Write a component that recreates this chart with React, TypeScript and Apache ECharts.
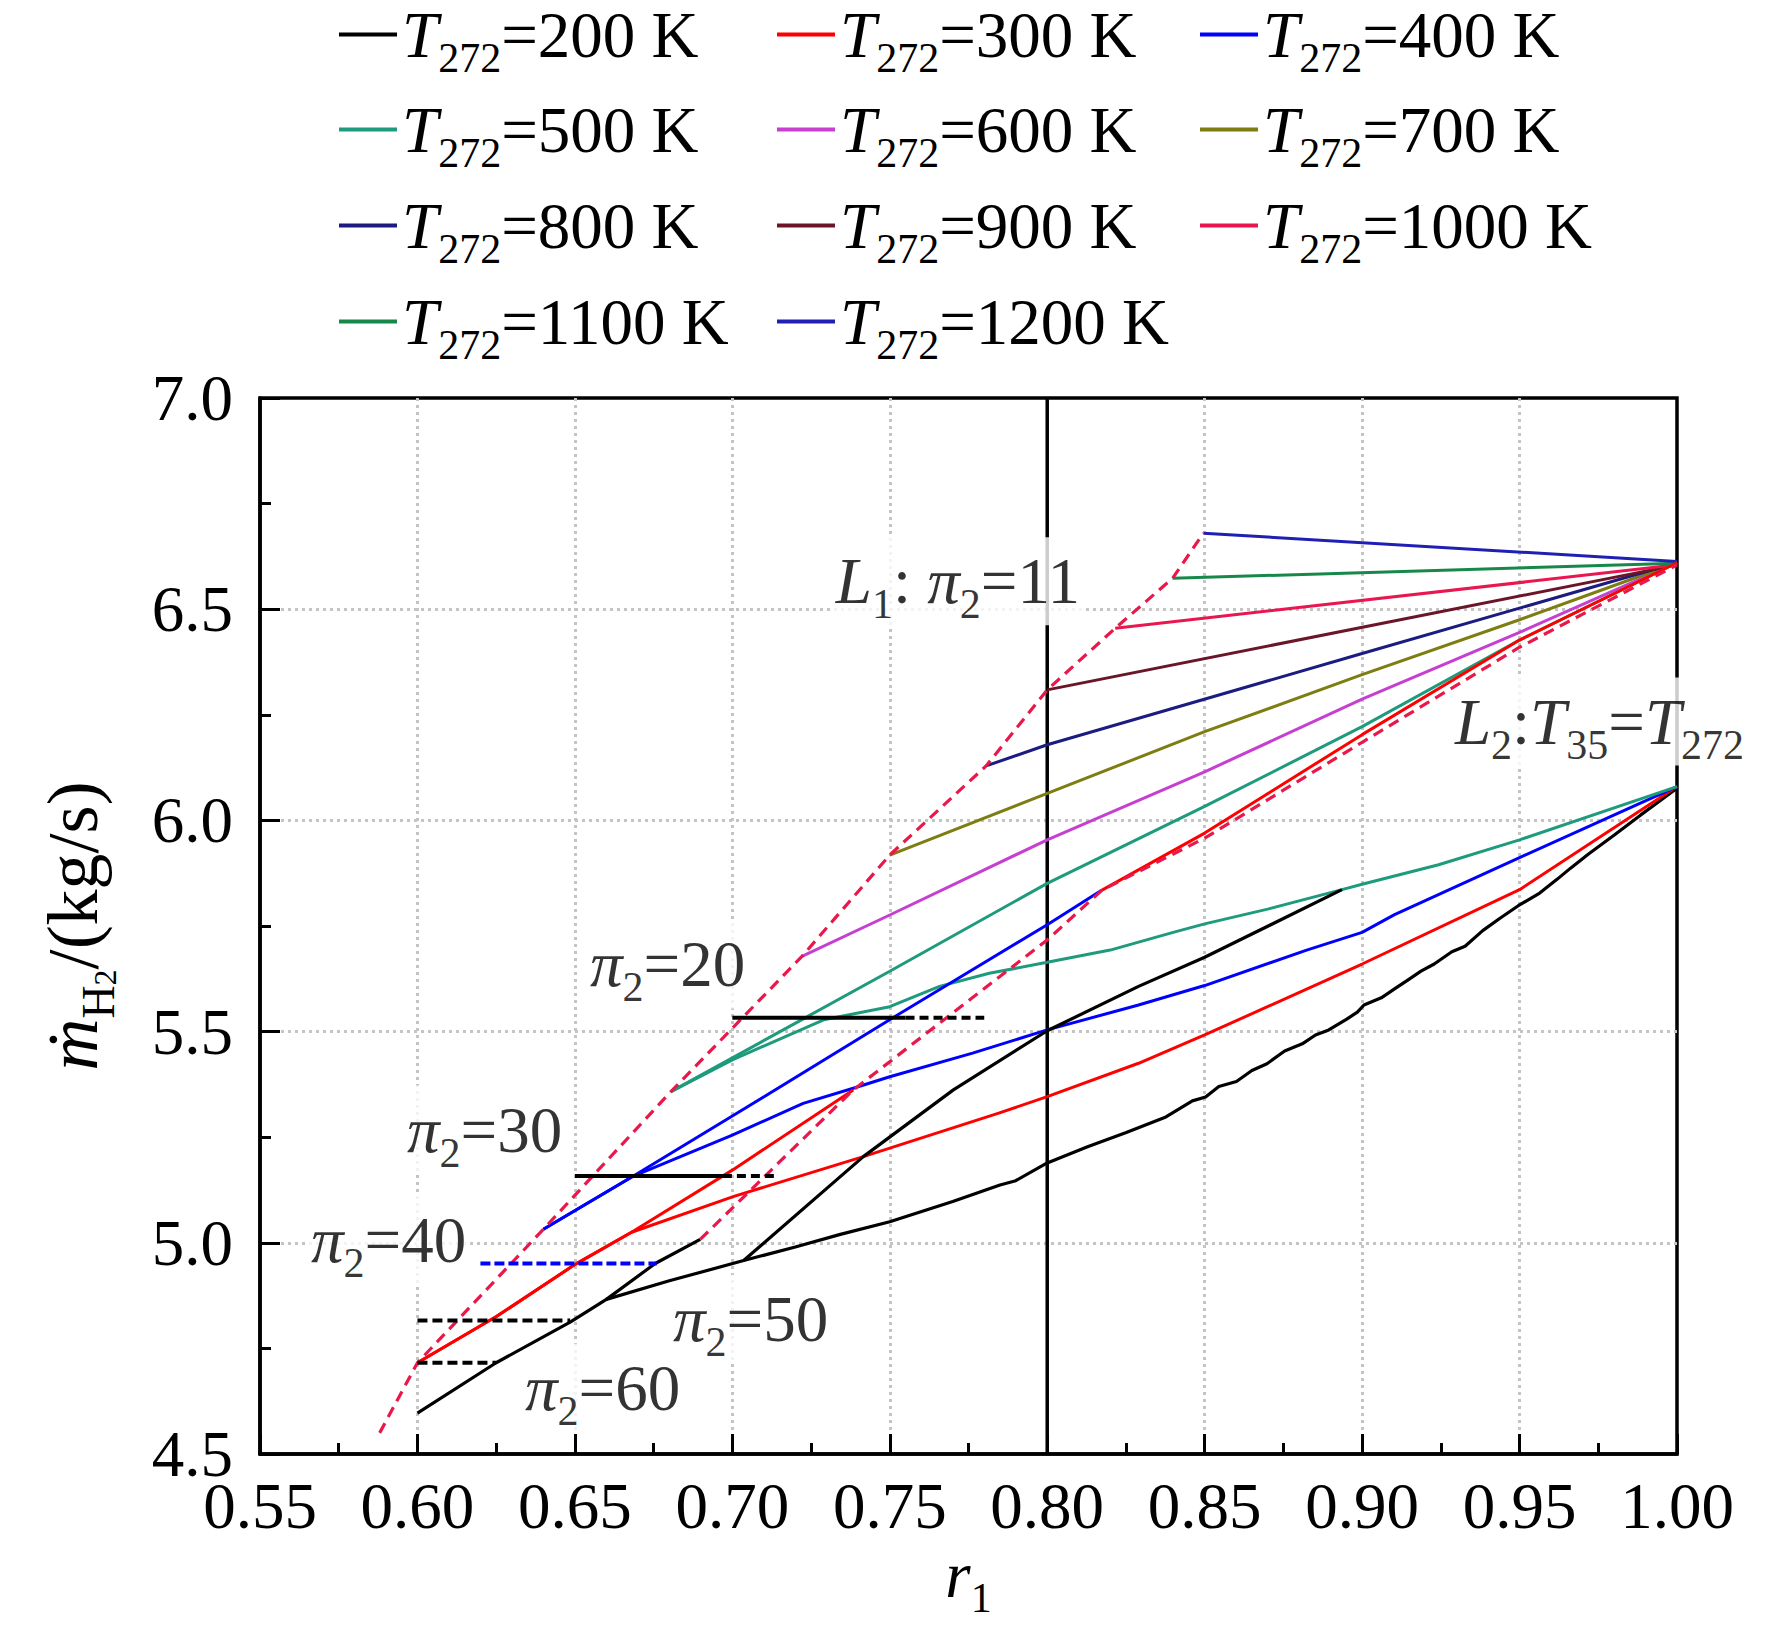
import React, { useEffect, useRef } from 'react';
import * as echarts from 'echarts';

// ---------- data ----------
const temperatures = [200, 300, 400, 500, 600, 700, 800, 900, 1000, 1100, 1200];

const t200Lower = [
  [0.6, 4.597], [0.625, 4.716], [0.6485, 4.812], [0.66, 4.866], [0.68, 4.91], [0.7036, 4.958],
  [0.72, 4.99], [0.7343, 5.02], [0.75, 5.05], [0.77, 5.098], [0.785, 5.137], [0.79, 5.147],
  [0.8, 5.189], [0.8126, 5.227], [0.8251, 5.261], [0.8377, 5.298], [0.8461, 5.336], [0.8503, 5.345],
  [0.8545, 5.37], [0.8601, 5.382], [0.865, 5.408], [0.8698, 5.424], [0.8754, 5.454], [0.881, 5.471],
  [0.8852, 5.492], [0.8894, 5.504], [0.895, 5.529], [0.8985, 5.546], [0.9006, 5.563], [0.9061, 5.58],
  [0.9103, 5.601], [0.9145, 5.622], [0.9187, 5.643], [0.9229, 5.66], [0.9285, 5.689], [0.9327, 5.702],
  [0.9383, 5.739], [0.9439, 5.769], [0.9496, 5.798], [0.9564, 5.828], [0.962, 5.861], [0.9662, 5.887],
  [0.9718, 5.92], [0.9802, 5.966], [0.9885, 6.013], [1.0, 6.076],
];
const t200BranchA = [[0.66, 4.866], [0.6755, 4.951], [0.6898, 5.008]];
const t200BranchC = [
  [0.7036, 4.958], [0.7416, 5.204], [0.7702, 5.362], [0.8, 5.502],
  [0.829, 5.607], [0.85, 5.676], [0.8936, 5.836],
];
const t300Upper = [[0.6, 4.716], [0.6252, 4.826], [0.6501, 4.949], [0.668, 5.025], [0.7, 5.172], [0.7384, 5.362]];
const t300Lower = [
  [0.6, 4.716], [0.6252, 4.826], [0.6501, 4.949], [0.668, 5.025], [0.7005, 5.11], [0.7416, 5.204],
  [0.7846, 5.307], [0.8, 5.346], [0.829, 5.425], [0.85, 5.492], [0.9, 5.66], [0.95, 5.836], [1.0, 6.08],
];
const t300Tail = [[0.8174, 5.835], [0.85, 5.97], [0.9, 6.203], [0.95, 6.427], [1.0, 6.61]];
const t400Upper = [[0.64, 5.032], [0.6686, 5.158], [0.7, 5.3], [0.751, 5.533], [0.8, 5.753], [0.8174, 5.835]];
const t400Lower = [
  [0.64, 5.032], [0.6686, 5.158], [0.7, 5.255], [0.7225, 5.33], [0.7384, 5.366], [0.75, 5.393],
  [0.7763, 5.449], [0.8, 5.504], [0.829, 5.563], [0.85, 5.609], [0.8824, 5.693], [0.9, 5.735],
  [0.9103, 5.777], [0.95, 5.912], [1.0, 6.08],
];
const t500Upper = [[0.6805, 5.358], [0.7237, 5.535], [0.75, 5.643], [0.8, 5.851], [0.85, 6.033], [0.9, 6.222], [0.95, 6.427], [1.0, 6.61]];
const t500Lower = [
  [0.6805, 5.358], [0.7, 5.433], [0.729, 5.528], [0.75, 5.559], [0.7658, 5.607], [0.7816, 5.638],
  [0.8, 5.664], [0.82, 5.693], [0.84, 5.735], [0.85, 5.755], [0.87, 5.79], [0.8936, 5.836],
  [0.9, 5.849], [0.9243, 5.895], [0.95, 5.954], [1.0, 6.08],
];
const t600 = [[0.7221, 5.678], [0.75, 5.776], [0.8, 5.954], [0.85, 6.115], [0.9, 6.287], [0.95, 6.445], [1.0, 6.61]];
const t700 = [[0.75, 5.918], [0.8, 6.064], [0.85, 6.21], [0.9, 6.345], [0.95, 6.475], [1.0, 6.61]];
const t800 = [[0.7806, 6.129], [0.8, 6.179], [0.9, 6.395], [1.0, 6.61]];
const t900 = [[0.8, 6.309], [1.0, 6.605]];
const t1000 = [[0.8216, 6.455], [1.0, 6.605]];
const t1100 = [[0.8398, 6.573], [1.0, 6.609]];
const t1200 = [[0.8496, 6.68], [1.0, 6.613]];

const boundaryLeft = [
  [0.588, 4.55], [0.6, 4.716], [0.64, 5.032], [0.6805, 5.358], [0.7221, 5.678], [0.75, 5.918],
  [0.7806, 6.129], [0.8, 6.309], [0.8216, 6.455], [0.8398, 6.573], [0.8496, 6.68],
];
const boundaryRight = [[0.6898, 5.008], [0.7384, 5.362], [0.8, 5.717], [0.8174, 5.835], [0.85, 5.958], [0.9, 6.185], [0.95, 6.41], [1.0, 6.605]];

const pi20Solid = [[0.7, 5.533], [0.755, 5.533]];
const pi20Dash = [[0.755, 5.533], [0.78, 5.533]];
const pi30Solid = [[0.65, 5.158], [0.697, 5.158]];
const pi30Dash = [[0.697, 5.158], [0.714, 5.158]];
const pi40Dash = [[0.62, 4.951], [0.676, 4.951]];
const pi50Dash = [[0.6, 4.816], [0.6485, 4.816]];
const pi60Dash = [[0.6, 4.716], [0.625, 4.716]];
const l1Line = [[0.8, 4.5], [0.8, 7.0]];

const annotationTexts = [
  '{i|π}{s|2}{n|=20}',
  '{i|π}{s|2}{n|=30}',
  '{i|π}{s|2}{n|=40}',
  '{i|π}{s|2}{n|=50}',
  '{i|π}{s|2}{n|=60}',
  '{i|L}{s|1}{n|: }{i|π}{s|2}{n|=11}',
  '{i|L}{s|2}{n|:}{i|T}{s|35}{n|=}{i|T}{s|272}',
];
const annotationAnchors = [
  [0.6535, 5.659], [0.5954, 5.268], [0.5649, 5.007], [0.6799, 4.82], [0.6329, 4.657], [0.7316, 6.566], [0.9282, 6.234],
];

const xTicks = { min: 0.55, max: 1.0, interval: 0.05 };
const yTicks = { min: 4.5, max: 7.0, interval: 0.5 };

// ---------- styles / layout ----------
const FONT = '"Liberation Serif", "Times New Roman", "DejaVu Serif", serif';
const BG = '#ffffff';
const colors: Record<number, string> = {
  200: '#000000', 300: '#ff0000', 400: '#0000ff', 500: '#1e9a7c', 600: '#c63fd0', 700: '#7d7d12',
  800: '#1c1c80', 900: '#6b1628', 1000: '#ea1650', 1100: '#17884a', 1200: '#1f1fb4',
};
const CRIMSON = '#e8184a';
const legendCols = [339, 777, 1200];
const legendRowTops = [2, 97, 193, 289];
const legendLayout = [
  [200, 300, 400],
  [500, 600, 700],
  [800, 900, 1000],
  [1100, 1200],
];

const rich = {
  i: { fontFamily: FONT, fontStyle: 'italic', fontSize: 65, lineHeight: 88, color: '#000' },
  n: { fontFamily: FONT, fontSize: 65, lineHeight: 88, color: '#000' },
  s: { fontFamily: FONT, fontSize: 42, lineHeight: 42, verticalAlign: 'bottom', color: '#000' },
};
const richY = {
  i: { fontFamily: FONT, fontStyle: 'italic', fontSize: 72, lineHeight: 96, color: '#000' },
  n: { fontFamily: FONT, fontSize: 72, lineHeight: 96, color: '#000' },
  s: { fontFamily: FONT, fontSize: 46, lineHeight: 46, verticalAlign: 'bottom', color: '#000' },
  s2: { fontFamily: FONT, fontSize: 32, lineHeight: 32, verticalAlign: 'bottom', color: '#000' },
};

const tName = (t: number) => `T272=${t} K`;

function line(name: string | undefined, data: number[][], color: string, width = 3, type: any = 'solid', z = 2) {
  return {
    type: 'line', name, data, symbol: 'none', showSymbol: false, silent: true, z,
    lineStyle: { color, width, type }, itemStyle: { color }, emphasis: { disabled: true },
  };
}

export default function App() {
  const ref = useRef<HTMLDivElement>(null);
  useEffect(() => {
    document.body.style.margin = '0';
    const chart = echarts.init(ref.current!, undefined, { renderer: 'svg' });
    const series: any[] = [
      line(tName(200), t200Lower, colors[200], 3.2),
      line(tName(300), t300Lower, colors[300]),
      line(tName(400), t400Lower, colors[400]),
      line(tName(500), t500Lower, colors[500]),
      line(tName(600), t600, colors[600]),
      line(tName(700), t700, colors[700]),
      line(tName(800), t800, colors[800]),
      line(tName(900), t900, colors[900]),
      line(tName(1000), t1000, colors[1000]),
      line(tName(1100), t1100, colors[1100]),
      line(tName(1200), t1200, colors[1200]),
      line(tName(500), t500Upper, colors[500]),
      line(tName(400), t400Upper, colors[400]),
      line(tName(300), t300Upper, colors[300]),
      line(tName(300), t300Tail, colors[300]),
      line(tName(200), t200BranchA, colors[200], 3.2),
      line(tName(200), t200BranchC, colors[200], 3.2),
      line(undefined, boundaryLeft, CRIMSON, 3.2, [11, 7]),
      line(undefined, boundaryRight, CRIMSON, 3.2, [11, 7]),
      line(undefined, pi20Solid, '#000', 4),
      line(undefined, pi20Dash, '#000', 4, [9, 5]),
      line(undefined, pi30Solid, '#000', 4),
      line(undefined, pi30Dash, '#000', 4, [9, 5]),
      line(undefined, pi40Dash, '#0000ff', 4, [10, 4]),
      line(undefined, pi50Dash, '#000', 4, [10, 5]),
      line(undefined, pi60Dash, '#000', 4, [10, 5]),
      line(undefined, l1Line, '#000', 3.5, 'solid', 0.5),
      {
        type: 'scatter', z: 1, silent: true, symbolSize: 0,
        data: annotationAnchors.map((p) => p),
        label: {
          show: true, position: 'right', distance: 0, backgroundColor: BG, padding: [0, 4],
          formatter: (p: any) => annotationTexts[p.dataIndex], rich,
        },
      },
    ];
    const legends: any[] = [];
    legendLayout.forEach((row, r) => {
      row.forEach((t, c) => {
        legends.push({
          orient: 'vertical', left: legendCols[c], top: legendRowTops[r], padding: 0,
          icon: 'rect', itemWidth: 58, itemHeight: 4, selectedMode: false,
          data: [tName(t)],
          formatter: (name: string) => {
            const m = name.match(/=(\d+)/);
            return `{i|T}{s|272}{n|=${m ? m[1] : ''} K}`;
          },
          textStyle: { fontFamily: FONT, fontSize: 65, color: '#000', rich },
        });
      });
    });
    const splitLine = { show: true, showMinLine: false, showMaxLine: false, lineStyle: { color: '#c4c4c4', width: 3, type: [3, 4] } };
    chart.setOption({
      animation: false,
      backgroundColor: BG,
      legend: legends,
      grid: {
        left: 260, top: 398, right: 95, bottom: 178, show: true, borderColor: '#000', borderWidth: 3.5,
        backgroundColor: 'transparent', outerBoundsMode: 'none', containLabel: false,
      },
      xAxis: {
        type: 'value', ...xTicks,
        name: '{i|r}{s|1}', nameLocation: 'middle', nameGap: 72,
        nameTextStyle: { fontFamily: FONT, fontSize: 65, rich },
        axisLine: { show: true, lineStyle: { color: '#000', width: 3.5 } },
        axisTick: { show: true, inside: true, length: 20, lineStyle: { color: '#000', width: 3 } },
        minorTick: { show: true, splitNumber: 2, length: 11, lineStyle: { color: '#000', width: 3 } },
        axisLabel: { fontFamily: FONT, fontSize: 65, color: '#000', margin: 19, formatter: (v: number) => v.toFixed(2) },
        splitLine,
      },
      yAxis: {
        type: 'value', ...yTicks,
        name: '{i|ṁ}{s|H}{s2|2}{n|/(kg/s)}', nameLocation: 'middle', nameGap: 139, nameRotate: 90,
        nameTextStyle: { fontFamily: FONT, fontSize: 72, rich: richY },
        axisLine: { show: true, lineStyle: { color: '#000', width: 3.5 } },
        axisTick: { show: true, inside: true, length: 20, lineStyle: { color: '#000', width: 3 } },
        minorTick: { show: true, splitNumber: 2, length: 11, lineStyle: { color: '#000', width: 3 } },
        axisLabel: { fontFamily: FONT, fontSize: 65, color: '#000', margin: 27, formatter: (v: number) => v.toFixed(1) },
        splitLine,
      },
      series,
    });
    return () => chart.dispose();
  }, []);
  return <div ref={ref} style={{ width: 1772, height: 1632, background: BG }} />;
}
